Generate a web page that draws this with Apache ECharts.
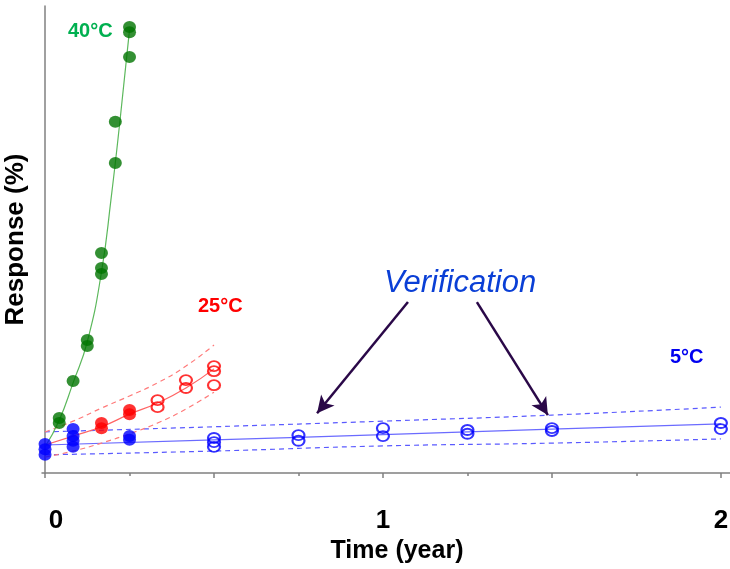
<!DOCTYPE html>
<html>
<head>
<meta charset="utf-8">
<script src="https://cdn.jsdelivr.net/npm/echarts@6/dist/echarts.min.js"></script>
<style>html,body{margin:0;padding:0;background:#fff}#c{width:730px;height:569px}</style>
</head>
<body>
<div id="c"></div>
<script>
// ---- data: [time (year), response (%)] ----
const green40Points = [[0.042,11.8],[0.042,10.7],[0.083,19.7],[0.125,28.5],[0.125,27.2],[0.167,47.1],[0.167,43.9],[0.167,42.6],[0.208,75.2],[0.208,66.4],[0.25,95.5],[0.25,94.4],[0.25,89.1]];
const green40Fit = [[0,5.6],[0.042,11.3],[0.083,19.3],[0.125,28.1],[0.167,43.0],[0.195,58.5],[0.222,75.6],[0.25,94.9]];

const red25Filled = [[0.167,10.7],[0.167,9.6],[0.25,13.5],[0.25,12.6]];
const red25Open = [[0.333,15.6],[0.333,14.1],[0.417,19.9],[0.417,18.2],[0.5,22.9],[0.5,21.8],[0.5,18.8]];
const red25Fit = [[0,6.0],[0.083,7.9],[0.167,9.9],[0.25,12.6],[0.333,15.0],[0.417,18.2],[0.5,22.3]];
const red25Upper = [[0,8.8],[0.083,11.1],[0.167,13.9],[0.25,16.5],[0.333,19.3],[0.417,22.9],[0.5,27.4]];
const red25Lower = [[0,3.4],[0.083,4.7],[0.167,6.4],[0.25,8.4],[0.333,10.7],[0.417,13.7],[0.5,17.3]];

const blue5Filled = [[0,6.2],[0,5.1],[0,3.9],[0.083,9.4],[0.083,7.9],[0.083,6.9],[0.083,5.6],[0.25,7.9],[0.25,7.1]];
const blue5Open = [[0.5,7.5],[0.5,6.6],[0.5,5.6],[0.75,8.1],[0.75,6.9],[1,9.6],[1,7.9],[1.25,9.2],[1.25,8.4],[1.5,9.6],[1.5,9.0],[2,10.7],[2,9.4]];
const blue5Fit = [[0,6.0],[0.5,7.1],[1,8.2],[1.5,9.4],[2,10.5]];
const blue5Upper = [[0,8.8],[0.5,9.9],[1,11.1],[1.5,12.4],[2,14.1]];
const blue5Lower = [[0,3.9],[0.5,4.7],[1,5.8],[1.5,6.4],[2,7.3]];

const xMajorTicks = [0,0.5,1,1.5,2];
const xMinorTicks = [0.25,0.75,1.25,1.75];
const xTickLabels = [0,1,2];

// verification arrows: [start, end] in data coords
const arrow1 = [[1.074,36.6],[0.805,12.8]];
const arrow2 = [[1.278,36.6],[1.488,12.4]];

const FONT = '"Liberation Sans", Arial, sans-serif';
const chart = echarts.init(document.getElementById('c'), null, {renderer:'canvas'});

function lineSeries(name, data, color, dashed, width) {
  return {name, type:'line', data, smooth:true, showSymbol:false, symbol:'none', silent:true,
    lineStyle:{color, width: width || 1, type: dashed ? [5,4] : 'solid'}, z:2};
}
function scatter(name, data, color, open, size, z) {
  return {name, type:'scatter', data, symbol:'circle', symbolSize:size, silent:true, z:z,
    itemStyle: open ? {color:'rgba(0,0,0,0)', borderColor:color, borderWidth:2} : {color, borderWidth:0}};
}

const option = {
  backgroundColor:'#fff',
  animation:false,
  grid:{left:42, right:0, top:6, bottom:96, containLabel:false, outerBoundsMode:'none'},
  xAxis:[{
    type:'value', min:-0.009, max:2.027,
    axisLine:{show:true, lineStyle:{color:'#808080', width:1.5}},
    axisTick:{show:true, customValues:xMajorTicks, length:5, lineStyle:{color:'#808080', width:1.5}},
    axisLabel:{show:true, customValues:xTickLabels, margin:35, fontSize:26, fontWeight:'bold', color:'#000', fontFamily:FONT,
      formatter: function(v){ return v === 0 ? '{z|0}' : String(v); },
      rich:{z:{fontSize:26, fontWeight:'bold', color:'#000', fontFamily:FONT, padding:[0,0,0,22]}}},
    splitLine:{show:false},
    name:'Time (year)', nameLocation:'middle', nameGap:62,
    nameTextStyle:{fontSize:25, fontWeight:'bold', color:'#000', fontFamily:FONT, padding:[0,0,0,22]}
  },{
    type:'value', min:-0.009, max:2.027, position:'bottom',
    axisLine:{show:false},
    axisTick:{show:true, customValues:xMinorTicks, length:3, lineStyle:{color:'#808080', width:1.5}},
    axisLabel:{show:false}, splitLine:{show:false}
  }],
  yAxis:{
    type:'value', min:0, max:100,
    axisLine:{show:true, lineStyle:{color:'#808080', width:1.5}},
    axisTick:{show:false}, axisLabel:{show:false}, splitLine:{show:false},
    name:'Response (%)', nameLocation:'middle', nameGap:13,
    nameTextStyle:{fontSize:26, fontWeight:'bold', color:'#000', fontFamily:FONT}
  },
  series:[
    lineSeries('blueUpper', blue5Upper, '#5a5aff', true, 1.2),
    lineSeries('blueLower', blue5Lower, '#5a5aff', true, 1.2),
    lineSeries('blueFit', blue5Fit, '#6b6bff', false, 1.2),
    lineSeries('redUpper', red25Upper, '#ff7a7a', true, 1.2),
    lineSeries('redLower', red25Lower, '#ff7a7a', true, 1.2),
    lineSeries('redFit', red25Fit, '#ff6464', false, 1.2),
    lineSeries('greenFit', green40Fit, '#5cb85c', false, 1.2),
    {type:'line', data:[], silent:true, markLine:{silent:true, symbol:['none','arrow'], symbolSize:[13,17],
      lineStyle:{color:'#2a0848', width:2.5, type:'solid'}, label:{show:false}, emphasis:{disabled:true},
      data:[[{coord:arrow1[0]},{coord:arrow1[1]}],[{coord:arrow2[0]},{coord:arrow2[1]}]]}},
    scatter('green40', green40Points, '#007400', false, [13,12], 4),
    scatter('red25f', red25Filled, '#ff0000', false, [13,12], 5),
    scatter('red25o', red25Open, '#ff0000', true, [12,10], 5),
    scatter('blue5o', blue5Open, '#0000ff', true, [12,10], 6),
    scatter('blue5f', blue5Filled, '#0000ff', false, [13,12], 6)
  ],
  graphic:[
    {type:'text', left:68, top:21, style:{text:'40°C', font:'bold 20px '+FONT, fill:'#00b050'}},
    {type:'text', left:198, top:296, style:{text:'25°C', font:'bold 20px '+FONT, fill:'#ff0000'}},
    {type:'text', left:670, top:347, style:{text:'5°C', font:'bold 20px '+FONT, fill:'#0000f0'}},
    {type:'text', left:384, top:268, style:{text:'Verification', font:'italic 31px '+FONT, fill:'#0a3fd6'}}
  ]
};
chart.setOption(option);
</script>
</body>
</html>
